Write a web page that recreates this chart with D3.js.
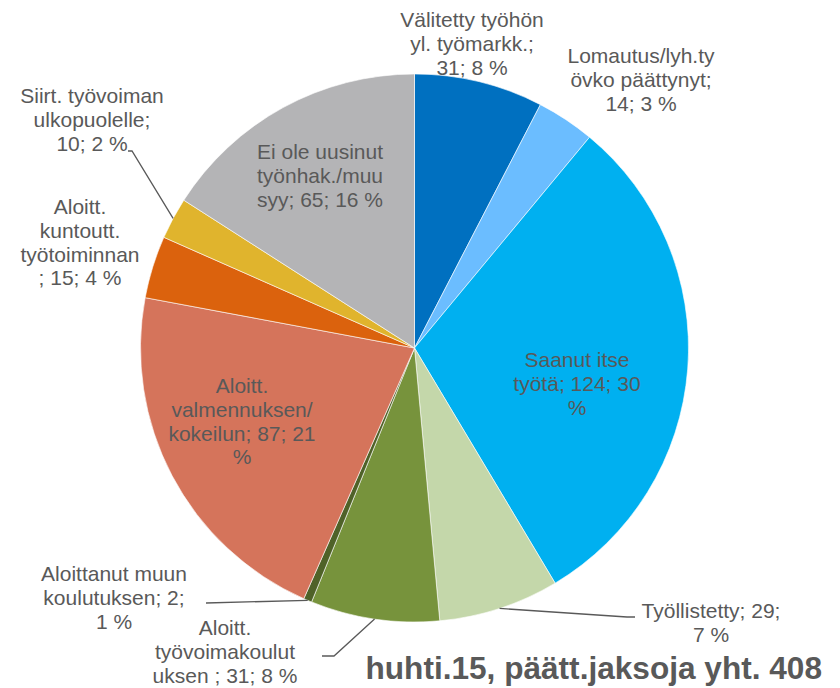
<!DOCTYPE html>
<html>
<head>
<meta charset="utf-8">
<script src="https://cdn.jsdelivr.net/npm/d3@7"></script>
<style>
  html, body { margin: 0; padding: 0; background: #fff; }
  svg { display: block; font-family: "Liberation Sans", Arial, sans-serif; }
  .lbl { font-size: 21px; fill: #595959; }
  .title { font-size: 31.6px; font-weight: bold; fill: #595959; }
  .leader { fill: none; stroke: #595959; stroke-width: 1.3; }
</style>
</head>
<body>
<svg id="chart" width="840" height="688" viewBox="0 0 840 688"></svg>
<script>
/* ── data ─────────────────────────────────────────────────────────────── */

const categories = [
  "Välitetty työhön yl. työmarkk.",
  "Lomautus/lyh.työvko päättynyt",
  "Saanut itse työtä",
  "Työllistetty",
  "Aloitt. työvoimakoulutuksen ",
  "Aloittanut muun koulutuksen",
  "Aloitt. valmennuksen/kokeilun",
  "Aloitt. kuntoutt. työtoiminnan",
  "Siirt. työvoiman ulkopuolelle",
  "Ei ole uusinut työnhak./muu syy",
];
const values = [31, 14, 124, 29, 31, 2, 87, 15, 10, 65];
const percents = [8, 3, 30, 7, 8, 1, 21, 4, 2, 16];
const titlePrefix = "huhti.15, päätt.jaksoja yht. ";

/* ── layout ───────────────────────────────────────────────────────────── */

const colors = [
  "#0070C0", "#6BBDFF", "#00B0F0", "#C4D7AA", "#77933C",
  "#4F6228", "#D5745B", "#DB620D", "#E0B42D", "#B4B4B6",
];
// characters per wrapped line (last line takes the rest)
const wrap = [[16, 14], [15, 15], [11, 14], [17], [7, 14], [15, 15], [7, 13, 16], [7, 9, 12], [16, 13], [14, 12]];
// label centre x, first baseline y
const labelPos = [
  [472, 27], [641, 63], [577, 367], [711, 618], [225, 635],
  [114, 581], [242, 393], [80, 214], [92, 103], [320, 159],
];
// leader line points on the label side (pie end is computed)
const leaderVia = {
  3: [[635, 617], [627, 617]],
  4: [[322, 656], [334, 656]],
  5: [[206, 603]],
  8: [[128, 151], [132, 151]],
};
const lineH = 23.8;

const cx = 414.5, cy = 348, R = 274;

/* ── chart ────────────────────────────────────────────────────────────── */

const svg = d3.select("#chart");
const data = categories.map((c, i) => ({ i, name: c, value: values[i], pct: percents[i] }));

const pie = d3.pie().value((d) => d.value).sort(null);
const arc = d3.arc().innerRadius(0).outerRadius(R);
const edge = d3.arc().innerRadius(R).outerRadius(R);
const arcs = pie(data);

const g = svg.append("g").attr("transform", `translate(${cx},${cy})`);

g.selectAll("path.slice")
  .data(arcs)
  .enter()
  .append("path")
  .attr("class", "slice")
  .attr("d", arc)
  .attr("fill", (d) => colors[d.data.i])
  .attr("stroke", "#fff")
  .attr("stroke-width", 0.6);

// leader lines
const line = d3.line();
arcs.forEach((d) => {
  const via = leaderVia[d.data.i];
  if (!via) return;
  const [ex, ey] = edge.centroid(d);
  const pts = via.map(([x, y]) => [x, y]).concat([[cx + ex, cy + ey]]);
  svg.append("path").attr("class", "leader").attr("d", line(pts));
});

// data labels
function splitLines(str, lens) {
  const out = [];
  let rest = str;
  lens.forEach((n) => {
    out.push(rest.slice(0, n));
    rest = rest.slice(n).replace(/^ /, "");
  });
  out.push(rest);
  return out;
}

data.forEach((d) => {
  const txt = `${d.name}; ${d.value}; ${d.pct} %`;
  const lines = splitLines(txt, wrap[d.i]);
  const [lx, ly] = labelPos[d.i];
  const t = svg.append("text").attr("class", "lbl").attr("text-anchor", "middle");
  lines.forEach((s, k) => {
    t.append("tspan").attr("x", lx).attr("y", ly + k * lineH).text(s);
  });
});

// title
svg
  .append("text")
  .attr("class", "title")
  .attr("x", 822)
  .attr("y", 679)
  .attr("text-anchor", "end")
  .text(titlePrefix + d3.sum(values));
</script>
</body>
</html>
